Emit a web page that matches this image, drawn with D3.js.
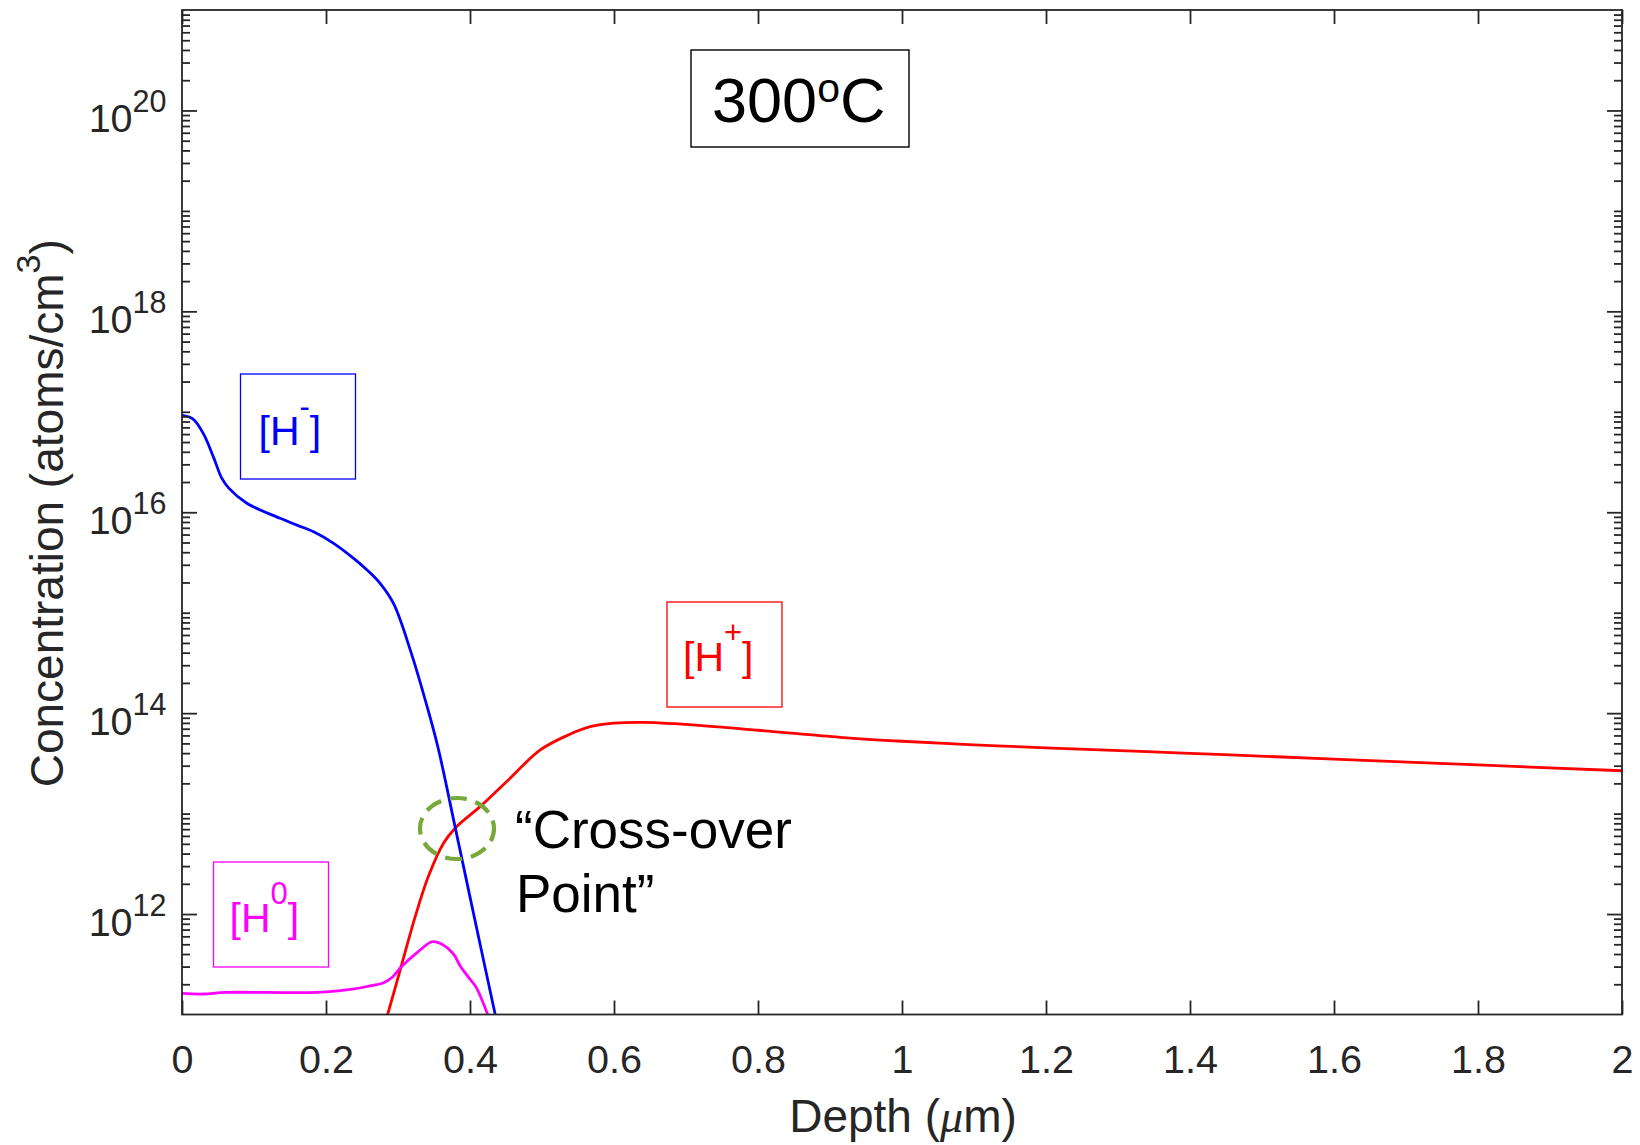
<!DOCTYPE html>
<html>
<head>
<meta charset="utf-8">
<script src="https://cdn.jsdelivr.net/npm/d3@7"></script>
<style>
  body { margin: 0; background: #fff; }
  svg { display: block; }
  text { font-family: "Liberation Sans", Arial, Helvetica, sans-serif; }
</style>
</head>
<body>
<svg id="chart" width="1640" height="1145"></svg>
<script>
// ---- data: hydrogen charge-state depth profiles at 300 °C ----
const depthTicks = [0, 0.2, 0.4, 0.6, 0.8, 1, 1.2, 1.4, 1.6, 1.8, 2];
const depthTickLabels = ["0", "0.2", "0.4", "0.6", "0.8", "1", "1.2", "1.4", "1.6", "1.8", "2"];
const concMajorExponents = [12, 14, 16, 18, 20];

// [H-] (atoms/cm^3) vs depth (µm)
const hMinusDepth = [0, 0.015, 0.03, 0.044, 0.055, 0.065, 0.09, 0.1365, 0.1597, 0.1829, 0.2106, 0.2384, 0.257, 0.2754, 0.2939, 0.317, 0.343, 0.3564, 0.3796, 0.4007, 0.435];
const hMinusConc  = [9.2e16, 8.5e16, 6.0e16, 3.5e16, 2.2e16, 1.74e16, 1.23e16, 8.7e15, 7.45e15, 6.38e15, 4.9e15, 3.47e15, 2.66e15, 1.95e15, 1.23e15, 4.27e14, 1.0e14, 4.3e13, 7.2e12, 1.4e12, 1.0e11];

// [H+]
const hPlusDepth = [0.2856, 0.3032, 0.324, 0.3425, 0.3634, 0.3796, 0.4143, 0.4514, 0.4976, 0.535, 0.567, 0.6, 0.64, 0.683, 0.8, 0.914, 1.0, 1.1, 1.2, 1.4, 1.6, 1.8, 2.0];
const hPlusConc  = [1.0e11, 2.8e11, 9.5e11, 2.4e12, 5.1e12, 7.2e12, 1.18e13, 2.1e13, 4.3e13, 6.0e13, 7.33e13, 7.94e13, 8.1e13, 7.85e13, 6.76e13, 5.75e13, 5.25e13, 4.84e13, 4.52e13, 3.98e13, 3.49e13, 3.05e13, 2.67e13];

// [H0]
const hZeroDepth = [0, 0.03, 0.06, 0.164, 0.2, 0.234, 0.257, 0.28, 0.292, 0.303, 0.326, 0.347, 0.359, 0.377, 0.3868, 0.4, 0.4086, 0.4245];
const hZeroConc  = [1.62e11, 1.6e11, 1.66e11, 1.65e11, 1.68e11, 1.78e11, 1.9e11, 2.07e11, 2.35e11, 2.9e11, 4.1e11, 5.3e11, 5.1e11, 4.0e11, 3.0e11, 2.25e11, 1.86e11, 1.0e11];

// ---- layout ----
const svg = d3.select("#chart");
const plotLeft = 182, plotRight = 1622, plotTop = 10, plotBottom = 1014.5;
const axisColor = "#262626";

const x = d3.scaleLinear().domain([0, 2]).range([plotLeft, plotRight]);
const y = d3.scaleLog().domain([1e11, 1e21]).range([plotBottom, plotTop]);

const majorVals = concMajorExponents.map(e => Math.pow(10, e));
const minorVals = [];
for (let e = 11; e <= 20; e++) {
  for (let k = 1; k <= 9; k++) {
    if (e === 11 && k === 1) continue;
    if (k === 1 && concMajorExponents.includes(e)) continue;
    minorVals.push(k * Math.pow(10, e));
  }
}

// ---- curves ----
svg.append("defs").append("clipPath").attr("id", "plotClip")
  .append("rect").attr("x", plotLeft).attr("y", plotTop)
  .attr("width", plotRight - plotLeft).attr("height", plotBottom - plotTop);

const line = d3.line()
  .x(d => x(d[0]))
  .y(d => y(d[1]))
  .curve(d3.curveCatmullRom.alpha(0.5));

const series = [
  { depth: hPlusDepth, conc: hPlusConc, color: "#ff0000" },
  { depth: hZeroDepth, conc: hZeroConc, color: "#ff00ff" },
  { depth: hMinusDepth, conc: hMinusConc, color: "#0000ff" }
];
const curves = svg.append("g").attr("clip-path", "url(#plotClip)");
series.forEach(s => {
  curves.append("path")
    .datum(s.depth.map((d, i) => [d, s.conc[i]]))
    .attr("d", line)
    .attr("fill", "none")
    .attr("stroke", s.color)
    .attr("stroke-width", 2.8)
    .attr("stroke-linejoin", "round");
});

// ---- axes ----
function styleTicks(g) {
  g.select(".domain").remove();
  g.selectAll(".tick line").attr("stroke", axisColor).attr("stroke-width", 1.8);
}

// bottom, with labels
svg.append("g")
  .attr("transform", `translate(0,${plotBottom})`)
  .call(d3.axisBottom(x).tickValues(depthTicks).tickSizeInner(-14).tickSizeOuter(0)
    .tickPadding(30).tickFormat((d, i) => depthTickLabels[i]))
  .call(styleTicks)
  .call(g => g.selectAll(".tick text")
    .attr("fill", axisColor).attr("font-size", 39.5)
    .attr("font-family", "'Liberation Sans', Arial, sans-serif"));

// top mirror
svg.append("g")
  .attr("transform", `translate(0,${plotTop})`)
  .call(d3.axisTop(x).tickValues(depthTicks).tickSizeInner(-14).tickSizeOuter(0).tickFormat(""))
  .call(styleTicks);

// left, major with power-of-ten labels
svg.append("g")
  .attr("transform", `translate(${plotLeft},0)`)
  .call(d3.axisLeft(y).tickValues(majorVals).tickSizeInner(-15).tickSizeOuter(0)
    .tickPadding(15.5).tickFormat(() => ""))
  .call(styleTicks)
  .call(g => g.selectAll(".tick text").each(function (d) {
    const t = d3.select(this)
      .attr("dy", null).attr("y", 21.5)
      .attr("fill", axisColor)
      .attr("font-family", "'Liberation Sans', Arial, sans-serif")
      .attr("text-anchor", "end");
    t.append("tspan").attr("font-size", 39.5).text("10");
    t.append("tspan").attr("font-size", 30.5).attr("dy", -20.5).text(String(Math.round(Math.log10(d))));
  }));

// left, minor
svg.append("g")
  .attr("transform", `translate(${plotLeft},0)`)
  .call(d3.axisLeft(y).tickValues(minorVals).tickSizeInner(-8).tickSizeOuter(0).tickFormat(""))
  .call(styleTicks);

// right mirror
svg.append("g")
  .attr("transform", `translate(${plotRight},0)`)
  .call(d3.axisRight(y).tickValues(majorVals).tickSizeInner(-15).tickSizeOuter(0).tickFormat(""))
  .call(styleTicks);
svg.append("g")
  .attr("transform", `translate(${plotRight},0)`)
  .call(d3.axisRight(y).tickValues(minorVals).tickSizeInner(-8).tickSizeOuter(0).tickFormat(""))
  .call(styleTicks);

// frame
svg.append("rect")
  .attr("x", plotLeft).attr("y", plotTop)
  .attr("width", plotRight - plotLeft).attr("height", plotBottom - plotTop)
  .attr("fill", "none").attr("stroke", axisColor).attr("stroke-width", 1.8);

// axis titles
const xTitle = svg.append("text")
  .attr("x", (plotLeft + plotRight) / 2 + 1).attr("y", 1132)
  .attr("text-anchor", "middle").attr("font-size", 46).attr("fill", axisColor);
xTitle.append("tspan").text("Depth (");
xTitle.append("tspan").attr("font-family", "'Liberation Serif', serif").attr("font-style", "italic").text("\u03bc");
xTitle.append("tspan").text("m)");

const yTitle = svg.append("text")
  .attr("transform", `translate(63,${(plotTop + plotBottom) / 2 + 1}) rotate(-90)`)
  .attr("text-anchor", "middle").attr("font-size", 46).attr("fill", axisColor);
yTitle.append("tspan").text("Concentration (atoms/cm");
yTitle.append("tspan").attr("font-size", 34).attr("dy", -23).text("3");
yTitle.append("tspan").attr("dy", 23).text(")");

// ---- annotations ----
// temperature box
svg.append("rect").attr("x", 691).attr("y", 50).attr("width", 218).attr("height", 97)
  .attr("fill", "#fff").attr("stroke", "#000").attr("stroke-width", 1.4);
const temp = svg.append("text").attr("x", 712).attr("y", 121.5).attr("font-size", 63).attr("fill", "#000");
temp.append("tspan").text("300");
temp.append("tspan").attr("font-size", 41).attr("dy", -20).text("o");
temp.append("tspan").attr("dy", 20).text("C");

// species labels
const speciesLabels = [
  { bx: 240.5, by: 374, tx: 258.5, ty: 444.5, sup: "-", color: "#0000ff" },
  { bx: 667, by: 602, tx: 683, ty: 671, sup: "+", color: "#ff0000" },
  { bx: 213.5, by: 862, tx: 229.5, ty: 932, sup: "0", color: "#ff00ff" }
];
speciesLabels.forEach(l => {
  svg.append("rect").attr("x", l.bx).attr("y", l.by).attr("width", 115).attr("height", 105)
    .attr("fill", "none").attr("stroke", l.color).attr("stroke-width", 1.3);
  const t = svg.append("text").attr("x", l.tx).attr("y", l.ty).attr("font-size", 41).attr("fill", l.color);
  t.append("tspan").text("[H");
  t.append("tspan").attr("font-size", 31).attr("dy", -28).text(l.sup);
  t.append("tspan").attr("dy", 28).text("]");
});

// cross-over marker and caption
svg.append("ellipse").attr("cx", 457).attr("cy", 828.5).attr("rx", 37).attr("ry", 30.5)
  .attr("fill", "none").attr("stroke", "#77a83a").attr("stroke-width", 4.2)
  .attr("stroke-dasharray", "17,9").attr("stroke-dashoffset", 4);

svg.append("text").attr("x", 515).attr("y", 847.5).attr("font-size", 53).attr("fill", "#000")
  .text("\u201cCross-over");
svg.append("text").attr("x", 516).attr("y", 911.5).attr("font-size", 53).attr("fill", "#000")
  .text("Point\u201d");
</script>
</body>
</html>
